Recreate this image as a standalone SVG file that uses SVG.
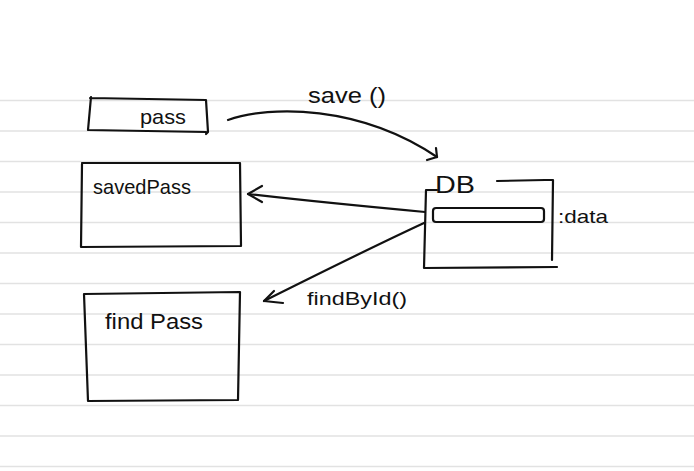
<svg xmlns="http://www.w3.org/2000/svg" width="694" height="471" viewBox="0 0 694 471">
<style>
.rule{stroke:#e2e2e2;stroke-width:1.3}
.ink{fill:none;stroke:#111;stroke-width:2.2;stroke-linecap:round;stroke-linejoin:round}
.txt{font-family:"Liberation Sans",Arial,sans-serif;fill:#111;font-weight:normal}
</style>
<rect width="694" height="471" fill="#fff"/>
<g id="paper">
<line class="rule" x1="0" y1="100.5" x2="694" y2="100.5"/>
<line class="rule" x1="0" y1="131" x2="694" y2="131"/>
<line class="rule" x1="0" y1="161.5" x2="694" y2="161.5"/>
<line class="rule" x1="0" y1="192" x2="694" y2="192"/>
<line class="rule" x1="0" y1="222.5" x2="694" y2="222.5"/>
<line class="rule" x1="0" y1="253" x2="694" y2="253"/>
<line class="rule" x1="0" y1="283.5" x2="694" y2="283.5"/>
<line class="rule" x1="0" y1="314" x2="694" y2="314"/>
<line class="rule" x1="0" y1="344.5" x2="694" y2="344.5"/>
<line class="rule" x1="0" y1="375" x2="694" y2="375"/>
<line class="rule" x1="0" y1="405.5" x2="694" y2="405.5"/>
<line class="rule" x1="0" y1="436" x2="694" y2="436"/>
<line class="rule" x1="0" y1="466.5" x2="694" y2="466.5"/>
</g>
<g id="pass">
<path class="ink" d="M90 98 L206 100 L208 132 L206 134 M91 97 L88 130 L206 132"/>
<text class="txt" x="140" y="124" font-size="21" textLength="46" lengthAdjust="spacingAndGlyphs">pass</text>
</g>
<g id="savedPass">
<path class="ink" d="M82 163 L240 163 L241 246 M82 164 L81 247 L241 246"/>
<text class="txt" x="93" y="194" font-size="21" textLength="98" lengthAdjust="spacingAndGlyphs">savedPass</text>
</g>
<g id="findPass">
<path class="ink" d="M84 294 L240 292 L238 400 M84 294 L88 401 L238 400"/>
<text class="txt" x="105" y="329" font-size="22" textLength="98" lengthAdjust="spacingAndGlyphs">find Pass</text>
</g>
<g id="DB">
<path class="ink" d="M437 190 L426 190 L424 268 L557 267"/>
<path class="ink" d="M497 181 L545 180 L553 180 L552 260"/>
<rect class="ink" x="433" y="208" width="111" height="14" rx="3"/>
<text class="txt" x="435" y="193" font-size="24" textLength="40" lengthAdjust="spacingAndGlyphs">DB</text>
<text class="txt" x="558" y="223" font-size="19" textLength="50" lengthAdjust="spacingAndGlyphs">:data</text>
</g>
<g id="connectors">
<path class="ink" d="M228 120 C270 105 360 105 437 157"/>
<path class="ink" d="M427 160 L437 157 L436 148"/>
<path class="ink" d="M425 212 C360 206 300 200 248 194"/>
<path class="ink" d="M262 186 L248 194 L262 202"/>
<path class="ink" d="M424 223 C370 248 310 278 264 301"/>
<path class="ink" d="M274 291 L264 301 L283 303"/>
<text class="txt" x="308" y="103" font-size="22" textLength="78" lengthAdjust="spacingAndGlyphs">save ()</text>
<text class="txt" x="307" y="305" font-size="19" textLength="100" lengthAdjust="spacingAndGlyphs">findById()</text>
</g>
</svg>
